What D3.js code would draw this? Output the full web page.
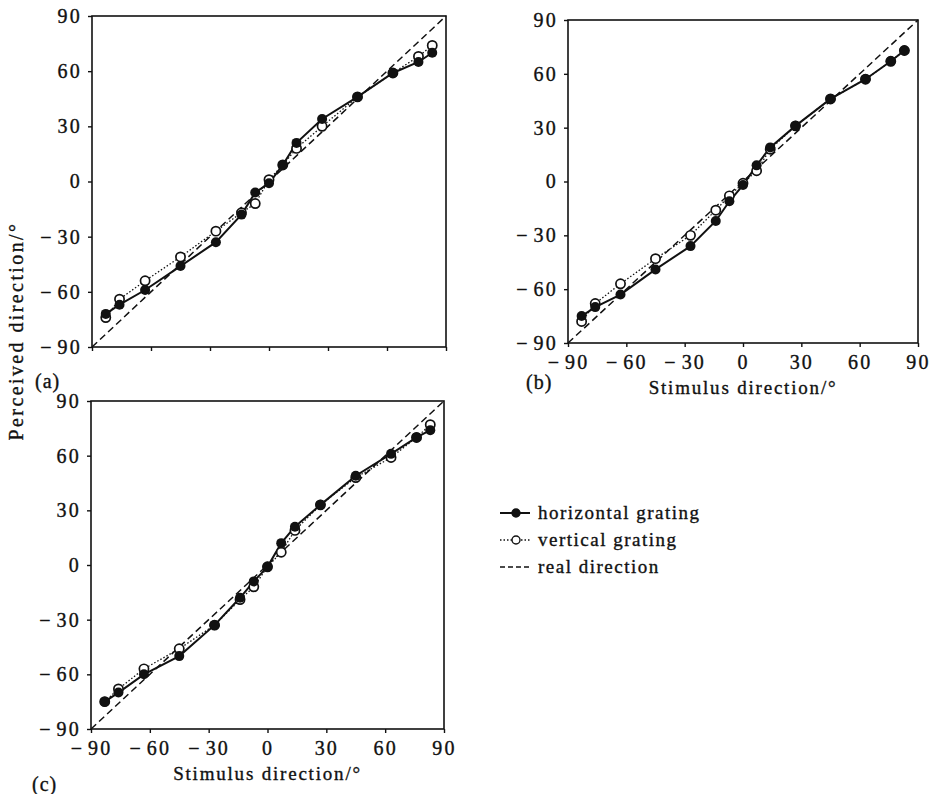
<!DOCTYPE html>
<html>
<head>
<meta charset="utf-8">
<script src="https://cdn.jsdelivr.net/npm/d3@7"></script>
<style>
  body { margin: 0; background: #fff; }
  svg text { font-family: "Liberation Serif", "Times New Roman", serif; fill: #111; stroke: #111; stroke-width: 0.35px; }
</style>
</head>
<body>
<svg id="chart" width="935" height="794"></svg>
<script>
// stimulus directions (deg), same for all three panels
var stimulus = [-83, -76, -63, -45, -27, -14, -7, 0, 7, 14, 27, 45, 63, 76, 83];
var tickValues = [-90, -60, -30, 0, 30, 60, 90];

// perceived direction
var aHoriz = [-72, -67, -59, -46, -33, -18, -6, -1, 9, 21, 34, 46, 59, 65, 70];
var aVert  = [-74, -64, -54, -41, -27, -17, -12, 1, 9, 18, 30, 46, 59, 68, 74];
var bHoriz = [-75, -70, -63, -49, -36, -22, -11, -2, 9, 19, 31, 46, 57, 67, 73];
var bVert  = [-78, -68, -57, -43, -30, -16, -8, -1, 6, 18, 31, 46, 57, 67, 73];
var cHoriz = [-75, -70, -60, -50, -33, -18, -9, -1, 12, 21, 33, 49, 61, 70, 74];
var cVert  = [-75, -68, -57, -46, -33, -19, -12, -1, 7, 19, 33, 48, 59, 70, 77];

var legendLabels = ["horizontal grating", "vertical grating", "real direction"];

var svg = d3.select("#chart");

function fmt(d) {
    if (d < 0) return "\u2212\u200a" + Math.abs(d);
    return "" + d;
}

function drawPanel(p) {
    var x = d3.scaleLinear().domain([-90, 90]).range([p.left, p.right]);
    var y = d3.scaleLinear().domain([-90, 90]).range([p.bottom, p.top]);
    var g = svg.append("g");

    // axes, ticks outward
    var ya = g.append("g").attr("transform", "translate(" + p.left + ",0)")
        .call(d3.axisLeft(y).tickValues(tickValues).tickSize(4).tickPadding(6).tickFormat(fmt));
    var xa = g.append("g").attr("transform", "translate(0," + p.bottom + ")")
        .call(d3.axisBottom(x).tickValues(tickValues).tickSize(4).tickPadding(5)
            .tickFormat(p.xlabels ? fmt : ""));
    [ya, xa].forEach(function (a) {
        a.select(".domain").remove();
        a.selectAll("line").attr("stroke", "#111").attr("stroke-width", 1.4);
        a.selectAll("text").style("font-size", "20px").style("letter-spacing", "2.2px").attr("fill", "#111");
    });
    xa.selectAll("text").attr("dy", "0.85em");

    // frame
    g.append("rect").attr("x", p.left).attr("y", p.top)
        .attr("width", p.right - p.left).attr("height", p.bottom - p.top)
        .attr("fill", "none").attr("stroke", "#111").attr("stroke-width", 1.6);

    // real direction
    g.append("line")
        .attr("x1", x(-90)).attr("y1", y(-90)).attr("x2", x(90)).attr("y2", y(90))
        .attr("stroke", "#111").attr("stroke-width", 1.5).attr("stroke-dasharray", "7,4");

    var line = d3.line().x(function (d) { return x(d[0]); }).y(function (d) { return y(d[1]); });
    var hPts = d3.zip(stimulus, p.horiz);
    var vPts = d3.zip(stimulus, p.vert);

    g.append("path").datum(vPts).attr("d", line)
        .attr("fill", "none").attr("stroke", "#111").attr("stroke-width", 1.3).attr("stroke-dasharray", "1.5,2");
    g.append("path").datum(hPts).attr("d", line)
        .attr("fill", "none").attr("stroke", "#111").attr("stroke-width", 2);

    g.selectAll(".open").data(vPts).enter().append("circle")
        .attr("cx", function (d) { return x(d[0]); }).attr("cy", function (d) { return y(d[1]); })
        .attr("r", 4.6).attr("fill", "#fff").attr("stroke", "#111").attr("stroke-width", 1.7);
    g.selectAll(".filled").data(hPts).enter().append("circle")
        .attr("cx", function (d) { return x(d[0]); }).attr("cy", function (d) { return y(d[1]); })
        .attr("r", 5).attr("fill", "#111");

    if (p.xlabels) {
        g.append("text").attr("x", (p.left + p.right) / 2).attr("y", p.bottom + 51)
            .attr("text-anchor", "middle").style("font-size", "19px").style("letter-spacing", "1.8px")
            .text("Stimulus direction/\u00b0");
    }
    g.append("text").attr("x", p.tagX).attr("y", p.tagY)
        .style("font-size", "20px").style("letter-spacing", "1px").text(p.tag);
}

drawPanel({left: 92, right: 446, top: 16, bottom: 347, horiz: aHoriz, vert: aVert, xlabels: false, tag: "(a)", tagX: 35, tagY: 388});
drawPanel({left: 568, right: 918, top: 20, bottom: 343, horiz: bHoriz, vert: bVert, xlabels: true, tag: "(b)", tagX: 526, tagY: 389});
drawPanel({left: 91, right: 444, top: 401, bottom: 729, horiz: cHoriz, vert: cVert, xlabels: true, tag: "(c)", tagX: 32, tagY: 791});

// shared y title
svg.append("text").attr("transform", "translate(23,331) rotate(-90)")
    .attr("text-anchor", "middle").style("font-size", "20px").style("letter-spacing", "2.4px")
    .text("Perceived direction/\u00b0");

// legend
var legend = svg.append("g");
var rows = legend.selectAll("g").data(legendLabels).enter().append("g")
    .attr("transform", function (d, i) { return "translate(500," + (513 + i * 27) + ")"; });
rows.append("line").attr("x1", 0).attr("x2", 30).attr("y1", 0).attr("y2", 0)
    .attr("stroke", "#111")
    .attr("stroke-width", function (d, i) { return i === 0 ? 2 : 1.4; })
    .attr("stroke-dasharray", function (d, i) { return i === 0 ? null : (i === 1 ? "1.5,2" : "5,3"); });
rows.filter(function (d, i) { return i < 2; }).append("circle")
    .attr("cx", 16).attr("cy", 0).attr("r", 4)
    .attr("fill", function (d, i) { return i === 0 ? "#111" : "#fff"; })
    .attr("stroke", "#111").attr("stroke-width", 1.4);
rows.append("text").attr("x", 38).attr("y", 6)
    .style("font-size", "19px").style("letter-spacing", "1.5px").text(function (d) { return d; });
</script>
</body>
</html>
